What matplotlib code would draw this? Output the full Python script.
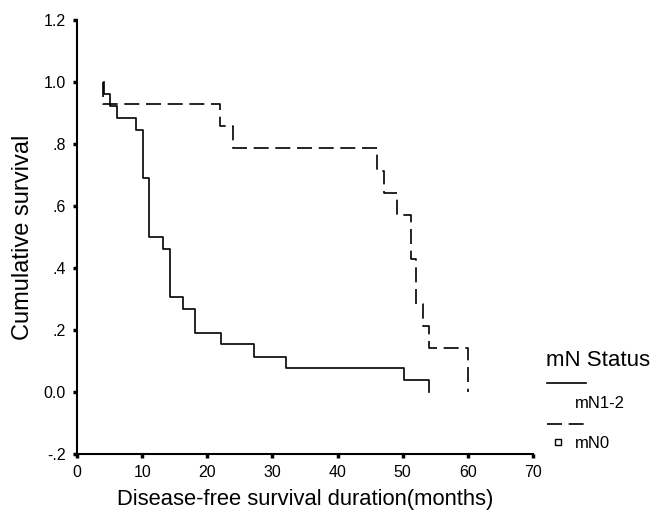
import matplotlib
matplotlib.use("Agg")
import matplotlib.pyplot as plt
from matplotlib.lines import Line2D

plt.rcParams['font.family'] = ['Liberation Sans', 'DejaVu Sans']

# ── Kaplan-Meier step data ──────────────────────────────────────
# mN1-2 (n=26), solid
t_n12 = [4.1, 4.1, 5.1, 6.1, 9.1, 10.1, 11.0, 13.2, 14.3, 16.3, 18.1, 22.1, 27.2, 32.1, 50.2, 54.0]
s_n12 = [1.0, 0.962, 0.923, 0.885, 0.846, 0.692, 0.500, 0.462, 0.308, 0.269, 0.192, 0.154, 0.115, 0.077, 0.038, 0.0]

# mN0 (n=14), dashed
t_n0 = [4.0, 4.0, 22.0, 24.0, 46.0, 47.1, 49.1, 51.2, 52.1, 53.1, 54.0, 60.0]
s_n0 = [1.0, 0.929, 0.857, 0.786, 0.714, 0.643, 0.571, 0.429, 0.286, 0.214, 0.143, 0.0]

xticks = [0, 10, 20, 30, 40, 50, 60, 70]
yticks = [-0.2, 0.0, 0.2, 0.4, 0.6, 0.8, 1.0, 1.2]
ytick_labels = ["-.2", "0.0", ".2", ".4", ".6", ".8", "1.0", "1.2"]

fig = plt.figure(figsize=(6.58, 5.15), dpi=100)
ax = fig.add_axes([0.117, 0.118, 0.693, 0.843])

ax.step(t_n12, s_n12, where='post', color='black', lw=1.2)
ax.step(t_n0, s_n0, where='post', color='black', lw=1.2, dashes=(9, 4))

ax.set_xlim(0, 70)
ax.set_ylim(-0.2, 1.2)
ax.set_xticks(xticks)
ax.set_yticks(yticks)
ax.set_yticklabels(ytick_labels)
ax.tick_params(length=3, width=2.5, labelsize=11.5, direction='out', pad=5)
for sp in ['top', 'right']:
    ax.spines[sp].set_visible(False)
for sp in ['left', 'bottom']:
    ax.spines[sp].set_linewidth(1.5)

ax.set_xlabel("Disease-free survival duration(months)", fontsize=15.8, labelpad=6)
ax.set_ylabel("Cumulative survival", fontsize=17, labelpad=7)

# ── legend, SPSS style ───────────────────────────────────────────
W, H = 658, 515
def fx(px): return px / W
def fy(py): return 1 - py / H

fig.text(fx(546), fy(360), "mN Status", fontsize=16, va='center', ha='left')
fig.add_artist(Line2D([fx(547), fx(586)], [fy(383), fy(383)], color='black', lw=1.2))
fig.text(fx(575), fy(404), "mN1-2", fontsize=12, va='center', ha='left')
fig.add_artist(Line2D([fx(547), fx(586)], [fy(424), fy(424)], color='black', lw=1.2,
                      dashes=(9, 4)))
fig.add_artist(Line2D([fx(558)], [fy(442)], marker='s', ms=4.5, mfc='white', mec='black',
                      mew=1.0, ls='none'))
fig.text(fx(575), fy(443), "mN0", fontsize=12, va='center', ha='left')

fig.savefig("out.png", dpi=100)
